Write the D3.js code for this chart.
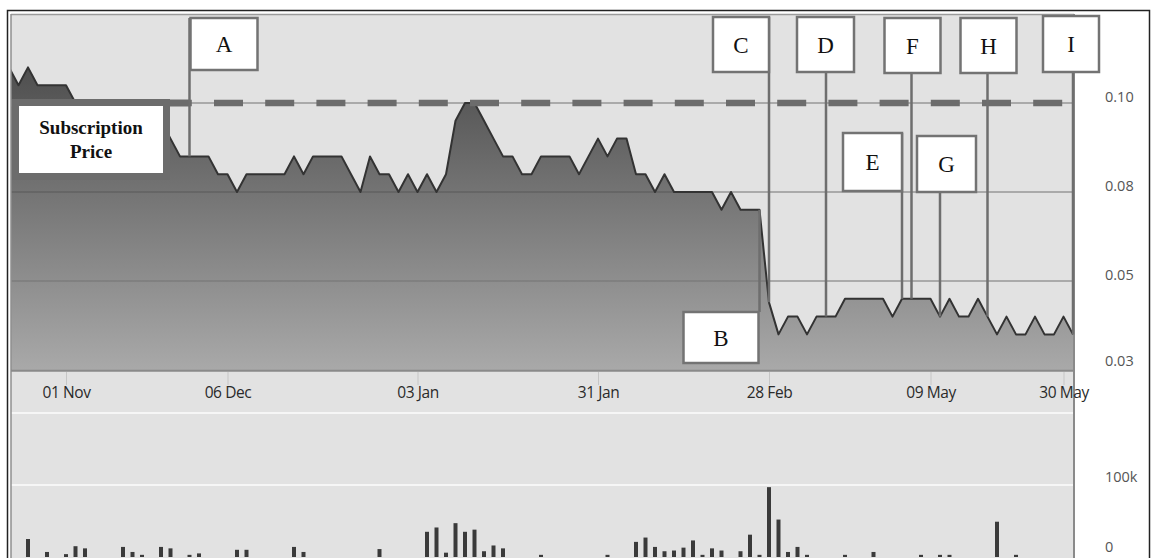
<!DOCTYPE html>
<html>
<head>
<meta charset="utf-8">
<script src="https://cdn.jsdelivr.net/npm/d3@7"></script>
<style>
  html, body { margin: 0; padding: 0; background: #fff; }
  svg { display: block; }
</style>
</head>
<body>
<svg id="chart" width="1152" height="558"></svg>
<script>
// Daily closing price, one value per trading day
const price = [
  0.11, 0.105, 0.11, 0.105, 0.105, 0.105, 0.105, 0.1, 0.1, 0.095,
  0.1, 0.095, 0.095, 0.09, 0.095, 0.09, 0.095, 0.09, 0.085, 0.085,
  0.085, 0.085, 0.08, 0.08, 0.075, 0.08, 0.08, 0.08, 0.08, 0.08,
  0.085, 0.08, 0.085, 0.085, 0.085, 0.085, 0.08, 0.075, 0.085, 0.08,
  0.08, 0.075, 0.08, 0.075, 0.08, 0.075, 0.08, 0.095, 0.1, 0.1,
  0.095, 0.09, 0.085, 0.085, 0.08, 0.08, 0.085, 0.085, 0.085, 0.085,
  0.08, 0.085, 0.09, 0.085, 0.09, 0.09, 0.08, 0.08, 0.075, 0.08,
  0.075, 0.075, 0.075, 0.075, 0.075, 0.07, 0.075, 0.07, 0.07, 0.07,
  0.044, 0.035, 0.04, 0.04, 0.035, 0.04, 0.04, 0.04, 0.045, 0.045,
  0.045, 0.045, 0.045, 0.04, 0.045, 0.045, 0.045, 0.045, 0.04, 0.045,
  0.04, 0.04, 0.045, 0.04, 0.035, 0.04, 0.035, 0.035, 0.04, 0.035,
  0.035, 0.04, 0.035
];

// Daily traded volume, thousands of shares
const volume = [
  0, 0, 25, 0, 7, 0, 4, 15, 12, 0,
  0, 0, 14, 7, 3, 0, 14, 12, 0, 3,
  5, 0, 0, 0, 10, 10, 0, 0, 0, 0,
  14, 7, 0, 0, 0, 0, 0, 0, 0, 11,
  0, 0, 0, 0, 35, 41, 6, 47, 35, 38,
  8, 16, 12, 0, 0, 0, 3, 0, 0, 0,
  0, 0, 0, 3, 0, 0, 21, 27, 14, 8,
  9, 13, 23, 3, 12, 9, 0, 8, 31, 3,
  97, 52, 7, 14, 3, 0, 0, 0, 3, 0,
  0, 7, 0, 0, 0, 0, 3, 0, 3, 3,
  0, 0, 0, 0, 49, 0, 3, 0, 0, 0,
  0, 0, 0
];

// Date axis
const tickLabels = ["01 Nov", "06 Dec", "03 Jan", "31 Jan", "28 Feb", "09 May", "30 May"];
const tickDays = [6, 23, 43, 62, 80, 97, 111];

// Price axis
const priceTicks = [0.025, 0.05, 0.075, 0.1];
const subscriptionPrice = 0.1;

// Volume axis
const volumeTicks = [0, 100];
const volumeGrid = [100, 200];

// Event markers: letter and the trading day it refers to
const noteLabels = ["A", "B", "C", "D", "E", "F", "G", "H", "I"];
const noteDays = [19, 79, 80, 86, 94, 95, 98, 103, 112];

// Box placement for each marker: [left, right] offsets from the event line, [top, bottom]
const noteLayout = {
  A: [1, 68, 18, 70],
  B: [-76, -1, 312, 363],
  C: [-56, 0, 17, 72],
  D: [-29, 28, 17, 72],
  E: [-59, 0, 133, 191],
  F: [-27, 29, 18, 73],
  G: [-23, 36, 136, 192],
  H: [-27, 29, 18, 73],
  I: [-30, 26, 16, 72]
};

const svg = d3.select("#chart");
const plotL = 11, plotR = 1074, plotT = 14, priceB = 369, axisY = 370.5;
const labelFont = "'Open Sans', sans-serif";

const x = d3.scaleLinear().domain([0, price.length - 1]).range([9, 1073]);
const y = d3.scaleLinear().domain([0.025, 0.125]).range([370, 14]);
const yv = d3.scaleLinear().domain([0, 100]).range([557, 485]);

const defs = svg.append("defs");
const grad = defs.append("linearGradient")
  .attr("id", "areaFill").attr("gradientUnits", "userSpaceOnUse")
  .attr("x1", 0).attr("y1", 60).attr("x2", 0).attr("y2", 368);
grad.append("stop").attr("offset", 0).attr("stop-color", "#1a1a1a");
grad.append("stop").attr("offset", 1).attr("stop-color", "#959595");

defs.append("clipPath").attr("id", "priceClip")
  .append("rect").attr("x", plotL).attr("y", plotT)
  .attr("width", plotR - plotL).attr("height", priceB - plotT);

// frame and plotting background
svg.append("rect").attr("x", 7.5).attr("y", 10.5).attr("width", 1142).attr("height", 560)
  .attr("fill", "#fff").attr("stroke", "#222").attr("stroke-width", 1.5);
svg.append("rect").attr("x", plotL).attr("y", plotT).attr("width", plotR - plotL).attr("height", 560 - plotT)
  .attr("fill", "#e2e2e2");

// price grid
svg.append("g").selectAll("line").data(priceTicks.filter(v => v > 0.025)).join("line")
  .attr("x1", plotL).attr("x2", plotR)
  .attr("y1", d => y(d)).attr("y2", d => y(d))
  .attr("stroke", "#aaaaaa").attr("stroke-width", 1.8);

// volume grid
svg.append("g").selectAll("line").data(volumeGrid).join("line")
  .attr("x1", plotL).attr("x2", plotR)
  .attr("y1", d => yv(d)).attr("y2", d => yv(d))
  .attr("stroke", "#f6f6f6").attr("stroke-width", 2);

// price area and line
const priceG = svg.append("g").attr("clip-path", "url(#priceClip)");
priceG.append("path").datum(price)
  .attr("d", d3.area().x((d, i) => x(i)).y0(y(0.025)).y1(d => y(d)))
  .attr("fill", "url(#areaFill)").attr("fill-opacity", 0.75);
priceG.append("path").datum(price)
  .attr("d", d3.line().x((d, i) => x(i)).y(d => y(d)))
  .attr("fill", "none").attr("stroke", "#333").attr("stroke-width", 2)
  .attr("stroke-linejoin", "round");

// subscription price: solid up to event A, dashed afterwards
const subY = y(subscriptionPrice);
const xA = x(noteDays[0]);
svg.append("line").attr("x1", plotL).attr("x2", xA).attr("y1", subY).attr("y2", subY)
  .attr("stroke", "#6c6c6c").attr("stroke-width", 7);
svg.append("line").attr("x1", xA).attr("x2", x(price.length - 1)).attr("y1", subY).attr("y2", subY)
  .attr("stroke", "#6c6c6c").attr("stroke-width", 6.5)
  .attr("stroke-dasharray", "29 22.2").attr("stroke-dashoffset", 26.7);

// plot borders and axis line
svg.append("line").attr("x1", plotL).attr("x2", plotR).attr("y1", plotT + 0.5).attr("y2", plotT + 0.5)
  .attr("stroke", "#9a9a9a").attr("stroke-width", 1.5);
svg.append("line").attr("x1", plotL).attr("x2", plotL).attr("y1", plotT).attr("y2", 560)
  .attr("stroke", "#8f8f8f").attr("stroke-width", 1.5);
svg.append("line").attr("x1", plotR).attr("x2", plotR).attr("y1", plotT).attr("y2", 560)
  .attr("stroke", "#8a8a8a").attr("stroke-width", 2);
svg.append("line").attr("x1", plotL).attr("x2", plotR).attr("y1", axisY).attr("y2", axisY)
  .attr("stroke", "#8a8a8a").attr("stroke-width", 2.5);

// date axis
const xAxis = d3.axisBottom(x).tickValues(tickDays)
  .tickFormat((d, i) => tickLabels[i]).tickSize(13).tickPadding(2);
const xg = svg.append("g").attr("transform", `translate(0,${axisY + 1.5})`).call(xAxis);
xg.select(".domain").remove();
xg.selectAll(".tick line").attr("stroke", "#c6c6c6").attr("stroke-width", 1);
xg.selectAll(".tick text").attr("fill", "#2a2a2a")
  .style("font-family", labelFont).style("font-size", "15.5px")
  .style("letter-spacing", "-0.4px");

// right-hand value labels (two decimals, halves rounded up)
const fmtPrice = v => d3.format(".2f")(Math.round(v * 100 + 1e-6) / 100);
svg.append("g").selectAll("text").data(priceTicks).join("text")
  .attr("x", 1105).attr("y", d => Math.min(y(d) - 6, 361))
  .attr("dy", "0.35em").attr("fill", "#555")
  .style("font-family", labelFont).style("font-size", "14.5px")
  .text(d => fmtPrice(d));
svg.append("g").selectAll("text").data(volumeTicks).join("text")
  .attr("x", 1105).attr("y", d => Math.min(yv(d) - 8, 547))
  .attr("dy", "0.35em").attr("fill", "#555")
  .style("font-family", labelFont).style("font-size", "14.5px")
  .text(d => d === 0 ? "0" : d + "k");

// volume bars
svg.append("g").selectAll("rect").data(volume.map((v, i) => ({ v, i })).filter(d => d.v > 0)).join("rect")
  .attr("x", d => x(d.i) - 2).attr("width", 4)
  .attr("y", d => yv(d.v)).attr("height", d => yv(0) - yv(d.v))
  .attr("fill", "#3a3a3a");

// event markers: a line from the price on that day up (or down) to its letter box
const notes = noteLabels.map((label, k) => {
  const day = noteDays[k];
  const [l, r, t, b] = noteLayout[label];
  const lx = x(day);
  return { label, lx, py: y(price[day]), x0: lx + l, x1: lx + r, y0: t, y1: b };
});
const ng = svg.append("g");
ng.selectAll("line").data(notes).join("line")
  .attr("x1", d => d.lx).attr("x2", d => d.lx)
  .attr("y1", d => d.py).attr("y2", d => d.y0)
  .attr("stroke", "#6e6e6e").attr("stroke-width", 2.5);
ng.selectAll("rect").data(notes).join("rect")
  .attr("x", d => d.x0).attr("y", d => d.y0)
  .attr("width", d => d.x1 - d.x0).attr("height", d => d.y1 - d.y0)
  .attr("fill", "#fff").attr("stroke", "#737373").attr("stroke-width", 2.5);
ng.selectAll("text").data(notes).join("text")
  .attr("x", d => (d.x0 + d.x1) / 2).attr("y", d => (d.y0 + d.y1) / 2)
  .attr("dy", "0.35em").attr("text-anchor", "middle").attr("fill", "#111")
  .style("font-family", "'Liberation Serif', serif").style("font-size", "23px")
  .text(d => d.label);

// subscription price label
const sb = svg.append("g");
sb.append("rect").attr("x", 15.5).attr("y", 102.5).attr("width", 151).attr("height", 74)
  .attr("fill", "#fff").attr("stroke", "#6c6c6c").attr("stroke-width", 7);
sb.selectAll("text").data(["Subscription", "Price"]).join("text")
  .attr("x", 91).attr("y", (d, i) => 127 + i * 24)
  .attr("dy", "0.35em").attr("text-anchor", "middle").attr("fill", "#111")
  .style("font-family", "'Liberation Serif', serif").style("font-size", "19px")
  .style("font-weight", "bold")
  .text(d => d);
</script>
</body>
</html>
